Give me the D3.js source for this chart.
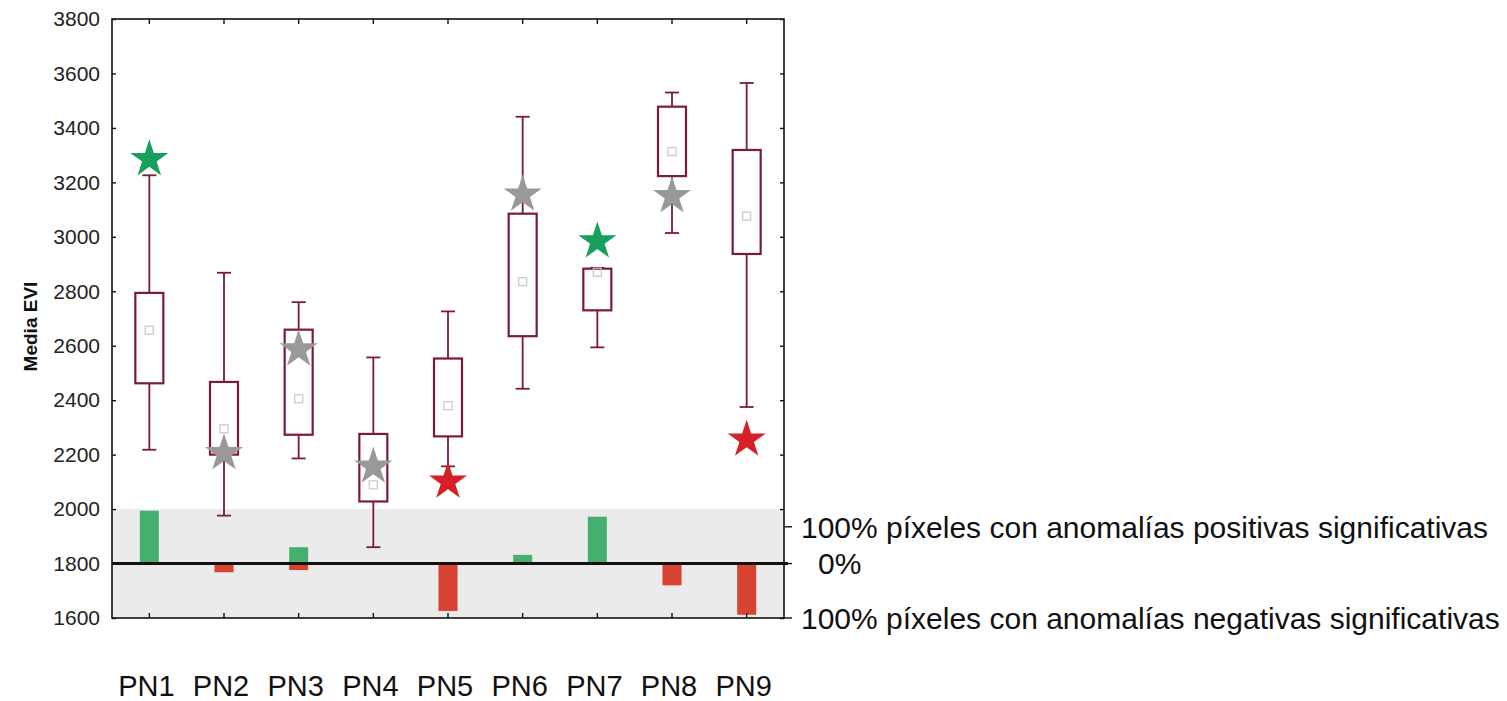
<!DOCTYPE html>
<html>
<head>
<meta charset="utf-8">
<script src="https://cdn.jsdelivr.net/npm/d3@7"></script>
<style>
  html, body { margin: 0; padding: 0; background: #ffffff; }
  svg { display: block; font-family: Arial, "Liberation Sans", Helvetica, sans-serif; }
</style>
</head>
<body>
<svg id="chart" width="1507" height="701"></svg>
<script>
// Sites
const categories = ["PN1", "PN2", "PN3", "PN4", "PN5", "PN6", "PN7", "PN8", "PN9"];

// Box plot statistics of mean EVI per site
const whiskerLow  = [2218, 1976, 2186, 1860, 2157, 2442, 2594, 3014, 2375];
const boxLow      = [2462, 2200, 2273, 2028, 2267, 2635, 2730, 3223, 2937];
const boxHigh     = [2794, 2467, 2659, 2276, 2553, 3085, 2883, 3478, 3319];
const whiskerHigh = [3226, 2868, 2760, 2557, 2726, 3441, 2886, 3530, 3565];
const meanValue   = [2657, 2295, 2405, 2089, 2380, 2835, 2870, 3313, 3076];

// Value of the year of interest and its class
const starValue = [3292, 2212, 2593, 2163, 2108, 3162, 2990, 3156, 2262];
const starClass = ["pos", "none", "none", "none", "neg", "none", "pos", "none", "neg"];

// Share of pixels (%) with significant positive / negative anomalies
const positivePct = [97, 0, 30, 0, 0, 16, 86, 2, 0];
const negativePct = [0, -16, -12, 0, -87, 0, 0, -40, -94];

// Axis ticks
const yTicks = [1600, 1800, 2000, 2200, 2400, 2600, 2800, 3000, 3200, 3400, 3600, 3800];
const sideLabels = [
  "100% píxeles con anomalías positivas significativas",
  "0%",
  "100% píxeles con anomalías negativas significativas"
];
const sideLabelValues = [1935, 1800, 1600];
const yTitle = "Media EVI";

// ---- layout ----
const plot = { left: 112, right: 784, top: 19, bottom: 618 };
const svg = d3.select("#chart");

const x = d3.scaleBand().domain(categories).range([plot.left, plot.right]).padding(0);
const cx = c => x(c) + x.bandwidth() / 2;
const y = d3.scaleLinear().domain([1600, 3800]).range([plot.bottom, plot.top]);

// percentage band: 0% on the 1800 line, ±100% reaching the edges of the grey band
const pctToValue = d3.scaleLinear().domain([-100, 0, 100]).range([1600, 1800, 2000]);
const yp = p => y(pctToValue(p));

const colors = {
  box: "#7b1a3c",
  mean: "#cbc6c8",
  band: "#ebebeb",
  barPos: "#45b06d",
  barNeg: "#d7432f",
  star: { pos: "#16a05c", neg: "#d42026", none: "#999999" }
};

// grey band for the anomaly bars
svg.append("rect")
  .attr("x", plot.left).attr("y", yp(100))
  .attr("width", plot.right - plot.left)
  .attr("height", yp(-100) - yp(100))
  .attr("fill", colors.band);

// anomaly bars
const barW = 19;
const rows = categories.map((c, i) => ({
  c, i,
  wl: whiskerLow[i], bl: boxLow[i], bh: boxHigh[i], wh: whiskerHigh[i],
  mean: meanValue[i], star: starValue[i], cls: starClass[i],
  pos: positivePct[i], neg: negativePct[i]
}));

svg.append("g").selectAll("rect.pos")
  .data(rows.filter(d => d.pos > 0))
  .join("rect")
  .attr("x", d => cx(d.c) - barW / 2)
  .attr("y", d => yp(d.pos))
  .attr("width", barW)
  .attr("height", d => yp(0) - yp(d.pos))
  .attr("fill", colors.barPos);

svg.append("g").selectAll("rect.neg")
  .data(rows.filter(d => d.neg < 0))
  .join("rect")
  .attr("x", d => cx(d.c) - barW / 2)
  .attr("y", yp(0))
  .attr("width", barW)
  .attr("height", d => yp(d.neg) - yp(0))
  .attr("fill", colors.barNeg);

// zero line
svg.append("line")
  .attr("x1", plot.left).attr("x2", plot.right + 4)
  .attr("y1", yp(0)).attr("y2", yp(0))
  .attr("stroke", "#111").attr("stroke-width", 3);

// frame
svg.append("rect")
  .attr("x", plot.left).attr("y", plot.top)
  .attr("width", plot.right - plot.left)
  .attr("height", plot.bottom - plot.top)
  .attr("fill", "none").attr("stroke", "#111").attr("stroke-width", 1.6);

// left axis (ticks inward)
const yAxis = d3.axisLeft(y).tickValues(yTicks).tickSize(-4).tickPadding(12).tickFormat(d3.format("d"));
const gy = svg.append("g").attr("transform", `translate(${plot.left},0)`).call(yAxis);
gy.select(".domain").remove();
gy.selectAll(".tick line").attr("stroke", "#111").attr("stroke-width", 1.4);
gy.selectAll(".tick text")
  .attr("font-size", 21).attr("fill", "#222")
  .attr("font-family", "Arial, 'Liberation Sans', sans-serif");

// right axis (ticks inward)
const yAxisR = d3.axisRight(y).tickValues(yTicks).tickSize(-4).tickFormat("");
const gyr = svg.append("g").attr("transform", `translate(${plot.right},0)`).call(yAxisR);
gyr.select(".domain").remove();
gyr.selectAll(".tick line").attr("stroke", "#111").attr("stroke-width", 1.4);

// top and bottom category ticks (inward)
const xTop = d3.axisTop(x).tickSize(-5).tickFormat("");
const gxt = svg.append("g").attr("transform", `translate(0,${plot.top})`).call(xTop);
gxt.select(".domain").remove();
gxt.selectAll(".tick line").attr("stroke", "#111").attr("stroke-width", 1.4);

const xBottom = d3.axisBottom(x).tickSize(-5);
const gxb = svg.append("g").attr("transform", `translate(0,${plot.bottom})`).call(xBottom);
gxb.select(".domain").remove();
gxb.selectAll(".tick line").attr("stroke", "#111").attr("stroke-width", 1.4);
gxb.selectAll(".tick text")
  .attr("font-size", 29).attr("fill", "#111")
  .attr("font-family", "Arial, 'Liberation Sans', sans-serif")
  .attr("y", 57).attr("dy", "0.71em")
  .attr("dx", -3);

// side annotation for the percentage band
const side = svg.append("g");
side.selectAll("line")
  .data(sideLabelValues)
  .join("line")
  .attr("x1", plot.right).attr("x2", plot.right + 8)
  .attr("y1", d => y(d)).attr("y2", d => y(d))
  .attr("stroke", "#111").attr("stroke-width", 1.4);
side.selectAll("text")
  .data(sideLabels)
  .join("text")
  .attr("x", (d, i) => i === 1 ? plot.right + 34 : plot.right + 17)
  .attr("y", (d, i) => y(sideLabelValues[i]))
  .attr("dy", "0.36em")
  .attr("font-size", 30)
  .attr("fill", "#111")
  .text(d => d);

// y title
svg.append("text")
  .attr("transform", `translate(30,${(plot.top + plot.bottom) / 2 + 8}) rotate(-90)`)
  .attr("text-anchor", "middle")
  .attr("dy", "0.35em")
  .attr("font-size", 19)
  .attr("font-weight", "bold")
  .attr("fill", "#111")
  .text(yTitle);

// box plots
const boxW = 28, capW = 14;
const boxes = svg.append("g");
const g = boxes.selectAll("g").data(rows).join("g");

g.append("line")
  .attr("x1", d => cx(d.c)).attr("x2", d => cx(d.c))
  .attr("y1", d => y(d.wh)).attr("y2", d => y(d.wl))
  .attr("stroke", colors.box).attr("stroke-width", 1.8);
g.append("line")
  .attr("x1", d => cx(d.c) - capW / 2).attr("x2", d => cx(d.c) + capW / 2)
  .attr("y1", d => y(d.wh)).attr("y2", d => y(d.wh))
  .attr("stroke", colors.box).attr("stroke-width", 1.8);
g.append("line")
  .attr("x1", d => cx(d.c) - capW / 2).attr("x2", d => cx(d.c) + capW / 2)
  .attr("y1", d => y(d.wl)).attr("y2", d => y(d.wl))
  .attr("stroke", colors.box).attr("stroke-width", 1.8);
g.append("rect")
  .attr("x", d => cx(d.c) - boxW / 2)
  .attr("y", d => y(d.bh))
  .attr("width", boxW)
  .attr("height", d => y(d.bl) - y(d.bh))
  .attr("fill", "#ffffff")
  .attr("stroke", colors.box).attr("stroke-width", 2.2);
g.append("rect")
  .attr("x", d => cx(d.c) - 4)
  .attr("y", d => y(d.mean) - 4)
  .attr("width", 8).attr("height", 8)
  .attr("fill", "none")
  .attr("stroke", colors.mean).attr("stroke-width", 1.2);

// stars for the year of interest
const starR = 20;
const starPath = d3.symbol().type(d3.symbolStar).size(starR * starR / 0.8908130915292852)();
svg.append("g").selectAll("path")
  .data(rows)
  .join("path")
  .attr("d", starPath)
  .attr("transform", d => `translate(${cx(d.c)},${y(d.star) + starR * 0.095})`)
  .attr("fill", d => colors.star[d.cls]);
</script>
</body>
</html>
